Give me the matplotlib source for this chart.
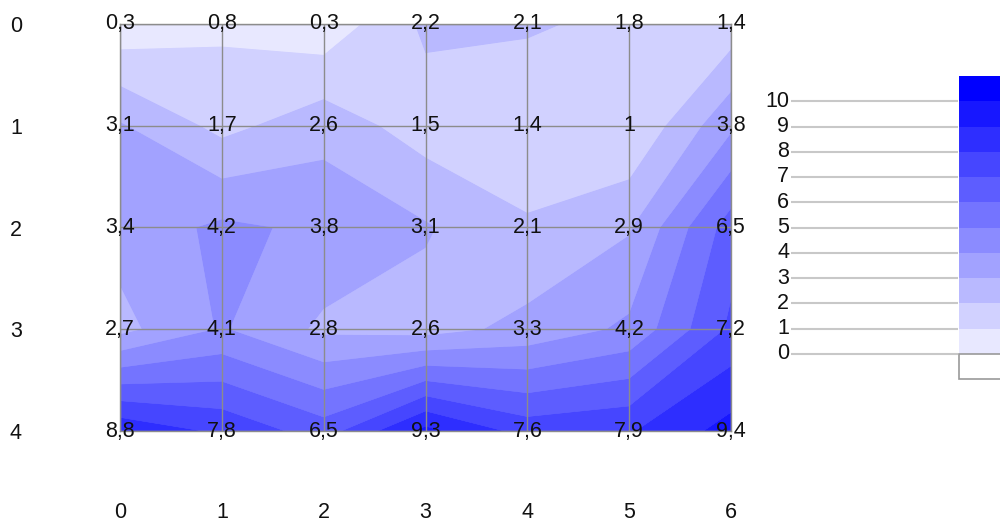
import numpy as np
import matplotlib
matplotlib.use("Agg")
import matplotlib.pyplot as plt

plt.rcParams['font.family'] = ['Liberation Sans', 'DejaVu Sans']

# Data
x_labels = ['0', '1', '2', '3', '4', '5', '6']
y_labels = ['0', '1', '2', '3', '4']
row0 = [0.3, 0.8, 0.3, 2.2, 2.1, 1.8, 1.4]
row1 = [3.1, 1.7, 2.6, 1.5, 1.4, 1.0, 3.8]
row2 = [3.4, 4.2, 3.8, 3.1, 2.1, 2.9, 6.5]
row3 = [2.7, 4.1, 2.8, 2.6, 3.3, 4.2, 7.2]
row4 = [8.8, 7.8, 6.5, 9.3, 7.6, 7.9, 9.4]
legend_ticks = [0, 1, 2, 3, 4, 5, 6, 7, 8, 9, 10]
band_edges = [0, 1, 2, 3, 4, 5, 6, 7, 8, 9, 10, 11]
band_colors = ['#e8e8ff', '#d1d1ff', '#b9b9ff', '#a2a2ff', '#8b8bff', '#7474ff',
               '#5d5dff', '#4646ff', '#2e2eff', '#1717ff', '#0000ff']

Z = np.array([row0, row1, row2, row3, row4])
xs = np.arange(len(x_labels))
ys = np.arange(len(y_labels))
X, Y = np.meshgrid(xs, ys)

FS = 15.5
W, H = 1000, 522
fig = plt.figure(figsize=(W / 100, H / 100), dpi=100)

# main axes: x 120..731 px, y 24..431 px
ax = fig.add_axes([120 / W, 1 - 431 / H, 611 / W, 407 / H])
ax.contourf(X, Y, Z, levels=band_edges, colors=band_colors, antialiased=True)
ax.contourf(X, Y, Z, levels=band_edges, colors=band_colors, antialiased=True)
ax.set_xlim(0, 6)
ax.set_ylim(4, 0)
ax.set_xticks(xs)
ax.set_xticklabels(x_labels)
ax.set_yticks(ys)
ax.set_yticklabels(y_labels)
ax.tick_params(length=0, labelsize=FS, labelcolor='#111111')
ax.tick_params(axis='y', pad=104 * 0.72)
ax.tick_params(axis='x', pad=82 * 0.72)
for t in ax.get_yticklabels():
    t.set_ha('center')
for t in ax.get_xticklabels():
    t.set_va('center')
ax.grid(True, color='#8c8c8c', lw=1)
ax.set_axisbelow(False)
for s in ax.spines.values():
    s.set_color('#8c8c8c')
    s.set_linewidth(1)

for i in range(Z.shape[0]):
    for j in range(Z.shape[1]):
        txt = f"{Z[i, j]:g}".replace('.', ',')
        ax.text(xs[j], ys[i], txt, ha='center', va='center', fontsize=FS,
                color='#111111', clip_on=False, zorder=5)

# legend axes: x 758..1000 px, y 76..379 px
leg = fig.add_axes([758 / W, 1 - 379 / H, 242 / W, 303 / H])
leg.set_xlim(758, 1000)
leg.set_ylim(-1, 11)
leg.axis('off')
for lo, hi, c in zip(band_edges[:-1], band_edges[1:], band_colors):
    leg.bar(959, hi - lo, bottom=lo, width=60, align='edge', color=c,
            linewidth=0)
leg.bar(959, 1, bottom=-1, width=60, align='edge', facecolor='white',
        edgecolor='#999999', linewidth=1.2, clip_on=False)
leg.hlines(legend_ticks, 791, 958, color='#c8c8c8', lw=1.5)
for t in legend_ticks:
    leg.text(789, t, str(t), ha='right', va='center', fontsize=FS,
             color='#111111')

fig.savefig('out.png', dpi=100)
